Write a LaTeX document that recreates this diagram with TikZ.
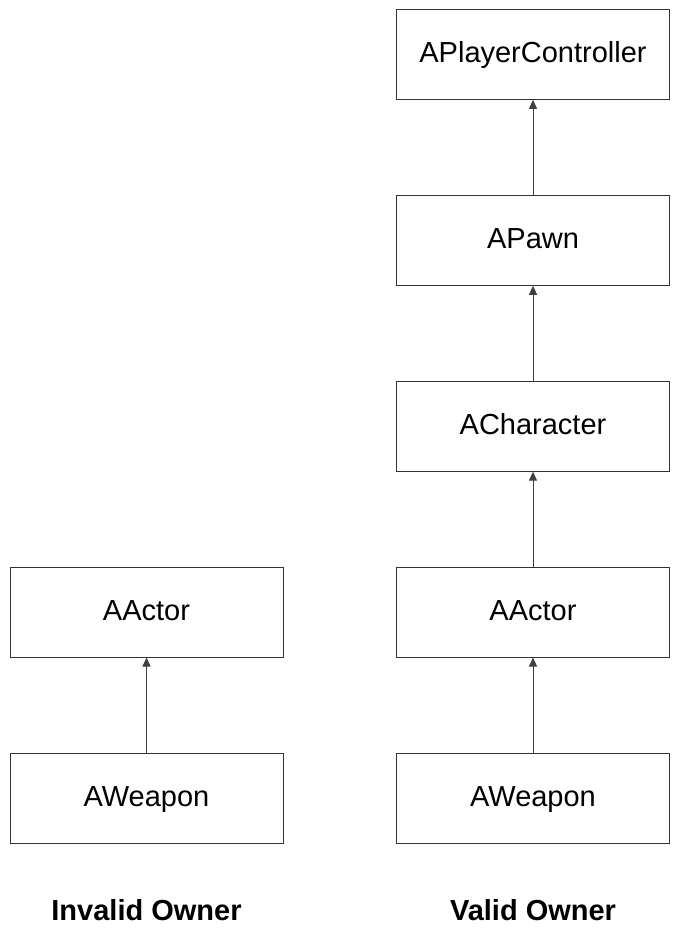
\documentclass[tikz,border=0pt]{standalone}
\usepackage{fontspec}
\setmainfont{Liberation Sans}
\usetikzlibrary{arrows.meta, positioning}

\begin{document}
\begin{tikzpicture}[
  x=1pt, y=1pt,
  font=\fontsize{29}{34}\selectfont,
  node distance=95pt,
  classe/.style={draw=black!80, line width=0.9pt, fill=white, inner sep=0pt,
                 minimum width=273pt, minimum height=90pt,
                 text height=22pt, text depth=5pt},
  freccia/.style={draw=black!75, line width=1pt, -{Triangle[width=8pt, length=9pt]}},
  titolo/.style={font=\fontsize{29}{34}\selectfont\bfseries}
]
\useasboundingbox (0,0) rectangle (677,-934);

% ---- proprietario non valido ---------------------------------------
\node[classe] (armaNV) at (146.5,-798) {AWeapon};
\node[classe, above=of armaNV] (attoreNV) {AActor};
\draw[freccia] (armaNV.north) -- (attoreNV.south);
\node[titolo] (titoloNV) at (146.5,-910) {Invalid Owner};

% ---- proprietario valido -------------------------------------------
\node[classe] (armaV) at (533,-798) {AWeapon};
\node[classe, above=of armaV] (attoreV) {AActor};
\node[classe, above=of attoreV] (personaggio) {ACharacter};
\node[classe, above=of personaggio] (pedina) {APawn};
\node[classe, above=of pedina] (controllore) {APlayerController};
\node[titolo] (titoloV) at (533,-910) {Valid Owner};

\foreach \da/\a in {armaV/attoreV, attoreV/personaggio, personaggio/pedina, pedina/controllore} {
  \draw[freccia] (\da.north) -- (\a.south);
}

\end{tikzpicture}
\end{document}
